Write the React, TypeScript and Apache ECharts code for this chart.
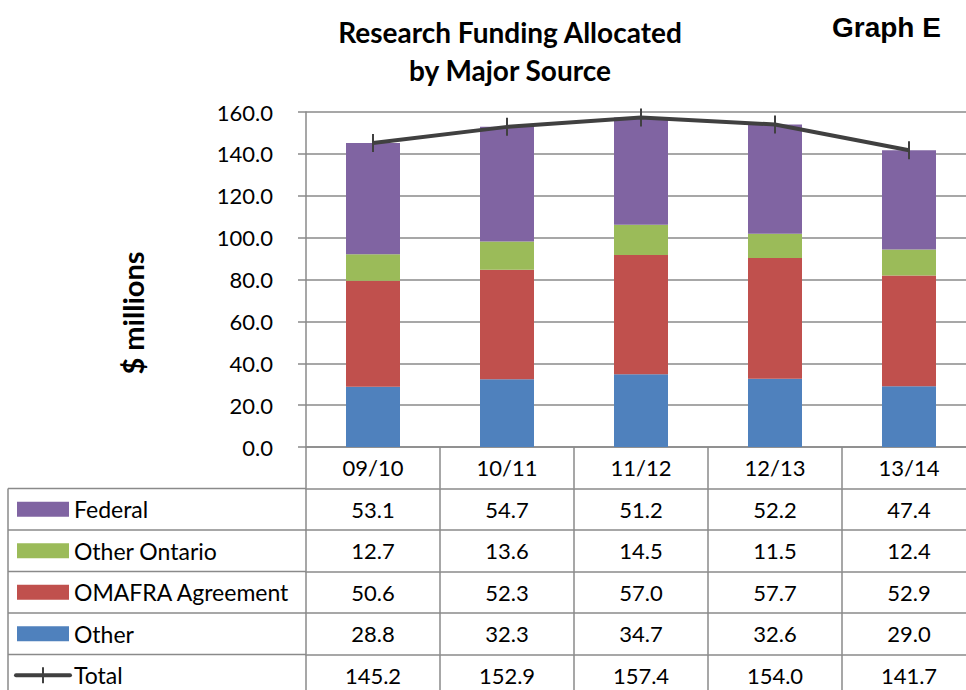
import React, { useEffect, useRef } from "react";
import * as echarts from "echarts";

const categories = ["09/10", "10/11", "11/12", "12/13", "13/14"];
const federal = [53.1, 54.7, 51.2, 52.2, 47.4];
const otherOntario = [12.7, 13.6, 14.5, 11.5, 12.4];
const omafra = [50.6, 52.3, 57.0, 57.7, 52.9];
const other = [28.8, 32.3, 34.7, 32.6, 29.0];
const total = [145.2, 152.9, 157.4, 154.0, 141.7];
const rowLabels = ["Federal", "Other Ontario", "OMAFRA Agreement", "Other", "Total"];
const yTicks = [0, 20, 40, 60, 80, 100, 120, 140, 160];

const FONT = "Lato, 'Open Sans', sans-serif";
const ARIAL = "'Liberation Sans', Arial, sans-serif";
const GRAY = "#8a8a8a";
const COLORS = {
  federal: "#8064A2",
  otherOntario: "#9BBB59",
  omafra: "#C0504D",
  other: "#4F81BD",
  total: "#404040",
};

export default function App() {
  const ref = useRef<HTMLDivElement>(null);
  useEffect(() => {
    if (!ref.current) return;
    const chart = echarts.init(ref.current, null, { renderer: "svg" });
    const gridLeft = 306;
    const gridTop = 112;
    const gridW = 670;
    const gridH = 335;
    const rowH = 41.5;
    const tableTop = gridTop + gridH; // 447
    const rows = [federal, otherOntario, omafra, other, total];
    const rowColors = [COLORS.federal, COLORS.otherOntario, COLORS.omafra, COLORS.other];

    const xAxes: any[] = [];
    for (let i = 0; i <= rows.length; i++) {
      xAxes.push({
        type: "category",
        data: categories,
        position: "bottom",
        offset: i * rowH,
        axisLine: { show: true, lineStyle: { color: GRAY, width: 1.5 } },
        axisTick: { show: true, interval: 0, length: rowH, lineStyle: { color: GRAY, width: 1.5 } },
        splitLine: { show: false },
        axisLabel: {
          interval: 0,
          fontSize: 22,
          color: "#000",
          fontFamily: FONT,
          margin: rowH / 2,
          verticalAlign: "middle",
          formatter: i === 0 ? undefined : (_v: string, idx: number) => rows[i - 1][idx].toFixed(1),
        },
      });
    }

    const graphics: any[] = [];
    const left = 8;
    const firstRowTop = tableTop + rowH;
    graphics.push({
      type: "line",
      shape: { x1: left, y1: firstRowTop, x2: left, y2: firstRowTop + rowH * 6 },
      style: { stroke: GRAY, lineWidth: 1.5 },
    });
    rowLabels.forEach((lab, k) => {
      const top = firstRowTop + k * rowH;
      const cy = top + rowH / 2;
      graphics.push({
        type: "line",
        shape: { x1: left, y1: top, x2: gridLeft, y2: top },
        style: { stroke: GRAY, lineWidth: 1.5 },
      });
      if (k < 4) {
        graphics.push({
          type: "rect",
          shape: { x: 17, y: cy - 7.5, width: 52, height: 15 },
          style: { fill: rowColors[k] },
        });
      } else {
        graphics.push({
          type: "line",
          shape: { x1: 16, y1: cy, x2: 70, y2: cy },
          style: { stroke: COLORS.total, lineWidth: 4, lineCap: "round" },
        });
        graphics.push({
          type: "line",
          shape: { x1: 43, y1: cy - 8, x2: 43, y2: cy + 8 },
          style: { stroke: COLORS.total, lineWidth: 2 },
        });
      }
      graphics.push({
        type: "text",
        x: 74,
        y: cy,
        style: {
          text: lab,
          fontSize: 23,
          fontFamily: FONT,
          fill: "#000",
          verticalAlign: "middle",
          align: "left",
        },
      });
    });
    graphics.push({
      type: "text",
      x: 132,
      y: 313,
      rotation: Math.PI / 2,
      style: {
        text: "$ millions",
        fontSize: 29,
        fontWeight: "bold",
        fontFamily: FONT,
        fill: "#000",
        align: "center",
        verticalAlign: "middle",
      },
    });

    chart.setOption({
      animation: false,
      backgroundColor: "#fff",
      title: [
        {
          text: "Research Funding Allocated\nby Major Source",
          left: 505,
          top: 8,
          textAlign: "center",
          textStyle: { fontSize: 28, fontWeight: "bold", lineHeight: 38, fontFamily: FONT, color: "#000" },
        },
        {
          text: "Graph E",
          left: 827,
          top: 8,
          textStyle: { fontSize: 28, fontWeight: "bold", fontFamily: ARIAL, color: "#000" },
        },
      ],
      grid: { left: gridLeft, top: gridTop, width: gridW, height: gridH },
      xAxis: xAxes,
      yAxis: {
        type: "value",
        min: yTicks[0],
        max: yTicks[yTicks.length - 1],
        interval: 20,
        axisLine: { show: true, lineStyle: { color: GRAY, width: 1.5 } },
        axisTick: { show: true, length: 8, lineStyle: { color: GRAY, width: 1.5 } },
        splitLine: { show: true, lineStyle: { color: GRAY, width: 1.5 } },
        axisLabel: {
          fontSize: 22,
          color: "#000",
          fontFamily: FONT,
          margin: 33,
          formatter: (v: number) => v.toFixed(1),
        },
      },
      series: [
        { name: "Other", type: "bar", stack: "s", data: other, barWidth: 54, itemStyle: { color: COLORS.other } },
        { name: "OMAFRA Agreement", type: "bar", stack: "s", data: omafra, itemStyle: { color: COLORS.omafra } },
        { name: "Other Ontario", type: "bar", stack: "s", data: otherOntario, itemStyle: { color: COLORS.otherOntario } },
        { name: "Federal", type: "bar", stack: "s", data: federal, itemStyle: { color: COLORS.federal } },
        {
          name: "Total",
          type: "line",
          data: total,
          z: 5,
          lineStyle: { color: COLORS.total, width: 4 },
          itemStyle: { color: COLORS.total },
          symbol: "rect",
          symbolSize: [2, 18],
        },
      ],
      graphic: graphics,
    });
    return () => chart.dispose();
  }, []);
  return (
    <div style={{ position: "absolute", left: 0, top: 0, width: 966, height: 690, overflow: "hidden", background: "#fff" }}>
      <div ref={ref} style={{ width: 990, height: 700 }} />
    </div>
  );
}
